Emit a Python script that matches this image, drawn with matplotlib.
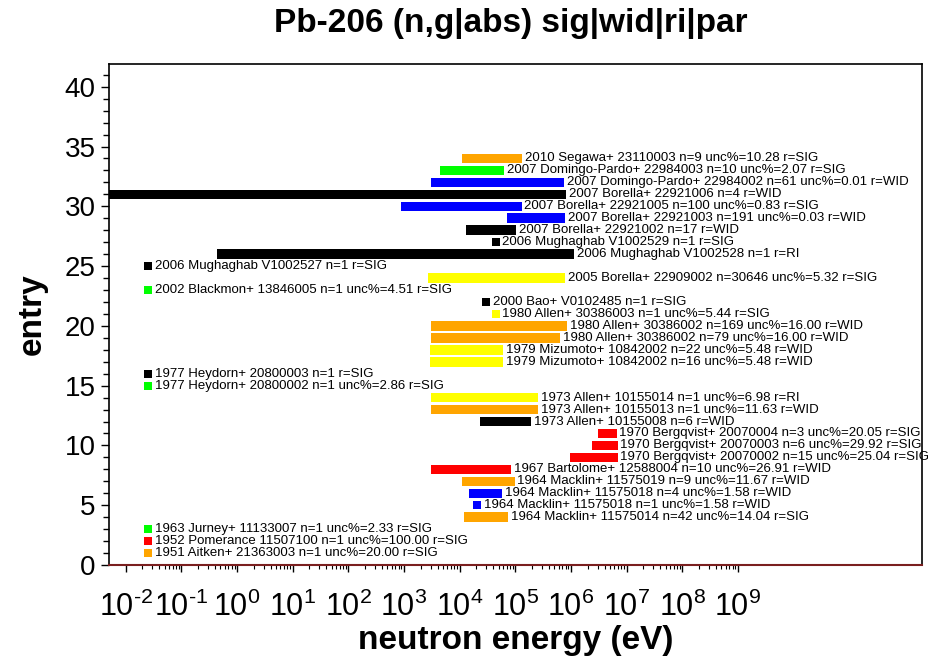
import numpy as np
import matplotlib.pyplot as plt
from matplotlib.ticker import FixedLocator, NullFormatter

plt.rcParams['font.family'] = ['Liberation Sans', 'DejaVu Sans']
plt.rcParams['mathtext.fontset'] = 'custom'
plt.rcParams['mathtext.rm'] = 'Liberation Sans'
plt.rcParams['mathtext.it'] = 'Liberation Sans:italic'
plt.rcParams['mathtext.bf'] = 'Liberation Sans:bold'

# entries from bottom (1) to top (34)
labels = [
    "1951 Aitken+ 21363003 n=1 unc%=20.00 r=SIG",
    "1952 Pomerance 11507100 n=1 unc%=100.00 r=SIG",
    "1963 Jurney+ 11133007 n=1 unc%=2.33 r=SIG",
    "1964 Macklin+ 11575014 n=42 unc%=14.04 r=SIG",
    "1964 Macklin+ 11575018 n=1 unc%=1.58 r=WID",
    "1964 Macklin+ 11575018 n=4 unc%=1.58 r=WID",
    "1964 Macklin+ 11575019 n=9 unc%=11.67 r=WID",
    "1967 Bartolome+ 12588004 n=10 unc%=26.91 r=WID",
    "1970 Bergqvist+ 20070002 n=15 unc%=25.04 r=SIG",
    "1970 Bergqvist+ 20070003 n=6 unc%=29.92 r=SIG",
    "1970 Bergqvist+ 20070004 n=3 unc%=20.05 r=SIG",
    "1973 Allen+ 10155008 n=6 r=WID",
    "1973 Allen+ 10155013 n=1 unc%=11.63 r=WID",
    "1973 Allen+ 10155014 n=1 unc%=6.98 r=RI",
    "1977 Heydorn+ 20800002 n=1 unc%=2.86 r=SIG",
    "1977 Heydorn+ 20800003 n=1 r=SIG",
    "1979 Mizumoto+ 10842002 n=16 unc%=5.48 r=WID",
    "1979 Mizumoto+ 10842002 n=22 unc%=5.48 r=WID",
    "1980 Allen+ 30386002 n=79 unc%=16.00 r=WID",
    "1980 Allen+ 30386002 n=169 unc%=16.00 r=WID",
    "1980 Allen+ 30386003 n=1 unc%=5.44 r=SIG",
    "2000 Bao+ V0102485 n=1 r=SIG",
    "2002 Blackmon+ 13846005 n=1 unc%=4.51 r=SIG",
    "2005 Borella+ 22909002 n=30646 unc%=5.32 r=SIG",
    "2006 Mughaghab V1002527 n=1 r=SIG",
    "2006 Mughaghab V1002528 n=1 r=RI",
    "2006 Mughaghab V1002529 n=1 r=SIG",
    "2007 Borella+ 22921002 n=17 r=WID",
    "2007 Borella+ 22921003 n=191 unc%=0.03 r=WID",
    "2007 Borella+ 22921005 n=100 unc%=0.83 r=SIG",
    "2007 Borella+ 22921006 n=4 r=WID",
    "2007 Domingo-Pardo+ 22984002 n=61 unc%=0.01 r=WID",
    "2007 Domingo-Pardo+ 22984003 n=10 unc%=2.07 r=SIG",
    "2010 Segawa+ 23110003 n=9 unc%=10.28 r=SIG",
]

# energy range (eV); points have e_lo == e_hi
e_lo = [0.0253, 0.0253, 0.0253, 1.22e4, 2.04e4, 1.45e4, 1.1e4, 3.0e3,
        9.7e5, 2.4e6, 3.0e6, 2.3e4, 3.0e3, 3.0e3, 0.0253, 0.0253,
        2.9e3, 2.9e3, 3.0e3, 3.0e3, 4.4e4, 3.0e4, 0.0253, 2.7e3,
        0.0253, 0.44, 4.4e4, 1.28e4, 7.2e4, 8.7e2, 1e-5, 3.0e3,
        4.4e3, 1.1e4]
e_hi = [0.0253, 0.0253, 0.0253, 7.5e4, 2.04e4, 5.8e4, 9.7e4, 8.5e4,
        6.9e6, 6.9e6, 6.6e6, 1.93e5, 2.57e5, 2.57e5, 0.0253, 0.0253,
        6.1e4, 6.1e4, 6.4e5, 8.65e5, 4.4e4, 3.0e4, 0.0253, 7.85e5,
        0.0253, 1.14e6, 4.4e4, 1.04e5, 7.85e5, 1.29e5, 8.2e5, 7.6e5,
        6.3e4, 1.33e5]

colors = ['#ffa500', '#ff0000', '#00ff00', '#ffa500', '#0000ff', '#0000ff',
          '#ffa500', '#ff0000', '#ff0000', '#ff0000', '#ff0000', '#000000',
          '#ffa500', '#ffff00', '#00ff00', '#000000', '#ffff00', '#ffff00',
          '#ffa500', '#ffa500', '#ffff00', '#000000', '#00ff00', '#ffff00',
          '#000000', '#000000', '#000000', '#000000', '#0000ff', '#0000ff',
          '#000000', '#0000ff', '#00ff00', '#ffa500']

entries = np.arange(1, len(labels) + 1)

fig = plt.figure(figsize=(9.51, 6.6), dpi=100)
ax = fig.add_axes([0.1146, 0.1439, 0.8546, 0.7591])

for y, lo, hi, c, lab in zip(entries, e_lo, e_hi, colors, labels):
    if lo == hi:
        ax.scatter([lo], [y], marker='s', s=40, color=c, linewidths=0, zorder=3)
        ax.annotate(lab, (lo, y), xytext=(5, 0), textcoords='offset points',
                    va='center', ha='left', fontsize=9.5)
    else:
        ax.barh(y, hi - lo, left=lo, height=0.8, color=c, zorder=2)
        ax.annotate(lab, (hi, y), xytext=(2, 0), textcoords='offset points',
                    va='center', ha='left', fontsize=9.5)

ax.set_xscale('log')
ax.set_xlim(5e-3, 2e12)
ax.set_ylim(0, 41.9)

decades = np.arange(-2, 10)
ax.xaxis.set_major_locator(FixedLocator(10.0 ** decades))
ax.set_xticklabels([r'10$^{\text{%d}}$' % d for d in decades], fontsize=22)
minors = [m * 10.0 ** d for d in decades[:-1] for m in range(2, 10)]
ax.xaxis.set_minor_locator(FixedLocator(minors))
ax.xaxis.set_minor_formatter(NullFormatter())

ax.set_yticks(np.arange(0, 41, 5))
ax.set_yticks(np.arange(0, 42, 1), minor=True)
ax.tick_params(axis='y', labelsize=20, length=6, width=1)
ax.tick_params(axis='y', which='minor', length=4, width=1)
ax.tick_params(axis='x', length=5, width=1, pad=14)
ax.tick_params(axis='x', which='minor', length=3, width=0.8)

ax.spines['bottom'].set_color('#7a1f1f')
ax.spines['bottom'].set_linewidth(1.5)
for s in ['top', 'left', 'right']:
    ax.spines[s].set_linewidth(1.2)

ax.set_xlabel('neutron energy (eV)', fontsize=24, fontweight='bold', labelpad=2)
ax.set_ylabel('entry', fontsize=24, fontweight='bold', labelpad=12)
fig.text(0.537, 0.965, 'Pb-206 (n,g|abs) sig|wid|ri|par', fontsize=24,
         fontweight='bold', ha='center', va='center')

plt.savefig('out.png', dpi=100)
